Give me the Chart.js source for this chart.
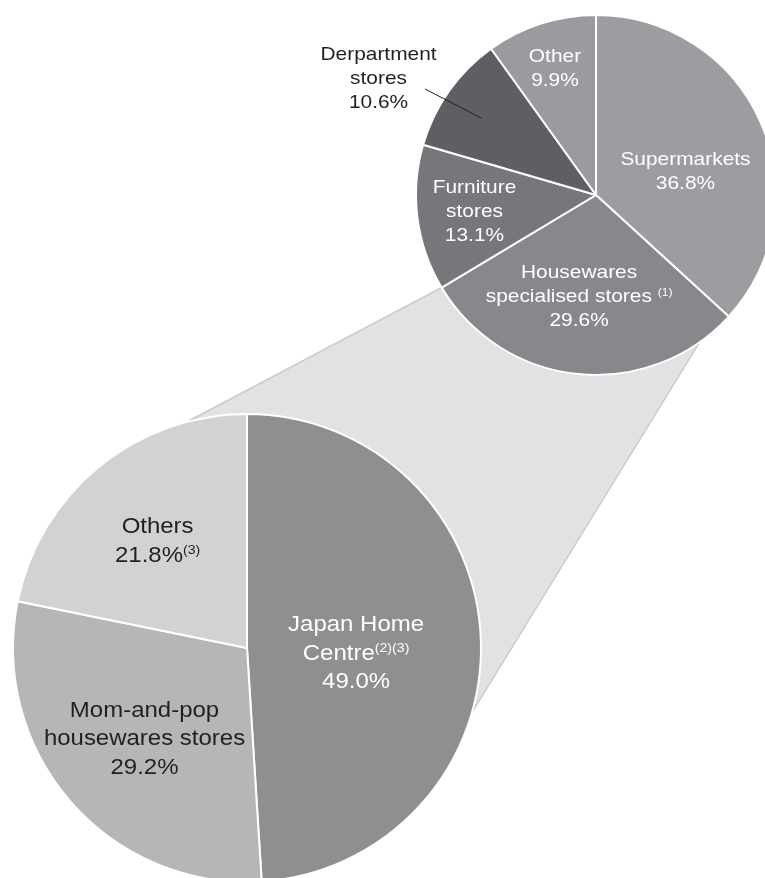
<!DOCTYPE html>
<html lang="en">
<head>
<meta charset="UTF-8">
<title>Housewares sales by channel</title>
<script src="https://cdn.jsdelivr.net/npm/chart.js"></script>
<style>
    body {
        margin: 0;
        background: #fff;
        overflow: hidden;
    }
    .stage {
        position: relative;
        width: 765px;
        height: 878px;
        overflow: hidden;
    }
    .stage canvas {
        position: absolute;
        left: 0;
        top: 0;
    }
</style>
</head>
<body>
<div class="stage">
    <canvas id="storeChart" width="800" height="900"></canvas>
    <canvas id="channelChart" width="800" height="900"></canvas>
</div>
<script>
    // top pie: sales channels (%)
    const channelNames = ['Supermarkets', 'Housewares|specialised stores ^(1)', 'Furniture|stores', 'Derpartment|stores', 'Other'];
    const channelShares = [36.8, 29.6, 13.1, 10.6, 9.9];
    const channelNotes = ['', '', '', '', ''];

    // bottom pie: split of housewares specialised stores (%)
    const storeNames = ['Japan Home|Centre^(2)(3)', 'Mom-and-pop|housewares stores', 'Others'];
    const storeShares = [49.0, 29.2, 21.8];
    const storeNotes = ['', '', '(3)'];

    const channelColors = ['#9c9da0', '#87888b', '#76777a', '#5e5f62', '#9a9b9e'];
    const storeColors = ['#8e8f91', '#b5b6b8', '#d1d2d4'];

    // label anchors, relative to pie centre in radius units (first baseline)
    const channelLabelPos = [
        { fx: 0.497, fy: -0.167, color: '#fff' },
        { fx: -0.094, fy: 0.462, color: '#fff' },
        { fx: -0.675, fy: -0.013, color: '#fff' },
        { fx: -1.208, fy: -0.75, color: '#231f20' },
        { fx: -0.228, fy: -0.741, color: '#fff' }
    ];
    const storeLabelPos = [
        { fx: 0.466, fy: -0.073, color: '#fff' },
        { fx: -0.438, fy: 0.294, color: '#231f20' },
        { fx: -0.382, fy: -0.491, color: '#231f20' }
    ];

    // zoom wedge angles, degrees clockwise from 12 o'clock
    const wedgeTopAngle = 144.8;
    const wedgeBottomAngles = [106.1, 345.2];

    const FONT = '"Liberation Sans", Arial, sans-serif';

    function drawLine(ctx, x, y, line, size, supSize, rise, sx) {
        const parts = line.split('^');
        ctx.font = size + 'px ' + FONT;
        const w1 = ctx.measureText(parts[0]).width;
        let w2 = 0;
        if (parts[1]) {
            ctx.font = supSize + 'px ' + FONT;
            w2 = ctx.measureText(parts[1]).width;
        }
        const total = (w1 + w2) * sx;
        ctx.save();
        ctx.translate(x - total / 2, y);
        ctx.scale(sx, 1);
        ctx.textAlign = 'left';
        ctx.textBaseline = 'alphabetic';
        ctx.font = size + 'px ' + FONT;
        ctx.fillText(parts[0], 0, 0);
        if (parts[1]) {
            ctx.font = supSize + 'px ' + FONT;
            ctx.fillText(parts[1], w1, -rise);
        }
        ctx.restore();
    }

    function labelPlugin(names, shares, notes, pos, style) {
        return {
            id: 'sliceLabels',
            afterDatasetsDraw(chart) {
                const ctx = chart.ctx;
                const arc = chart.getDatasetMeta(0).data[0];
                const cx = arc.x, cy = arc.y, r = arc.outerRadius;
                names.forEach((name, i) => {
                    const lines = name.split('|');
                    lines.push(shares[i].toFixed(1) + '%' + (notes[i] ? '^' + notes[i] : ''));
                    const x = cx + pos[i].fx * r;
                    const y = cy + pos[i].fy * r;
                    ctx.fillStyle = pos[i].color;
                    lines.forEach((ln, k) => {
                        drawLine(ctx, x, y + k * style.lh, ln, style.size, style.sup, style.rise, style.sx);
                    });
                });
                if (style.leader) {
                    // leader line for the department stores label
                    const l = style.leader;
                    ctx.save();
                    ctx.strokeStyle = '#231f20';
                    ctx.lineWidth = 1;
                    ctx.beginPath();
                    ctx.moveTo(cx + l[0] * r, cy + l[1] * r);
                    ctx.lineTo(cx + l[2] * r, cy + l[3] * r);
                    ctx.stroke();
                    ctx.restore();
                }
            }
        };
    }

    function pieOptions(padding) {
        return {
            responsive: false,
            animation: false,
            events: [],
            layout: { padding: padding },
            plugins: { legend: { display: false }, tooltip: { enabled: false } }
        };
    }

    const channelChart = new Chart(document.getElementById('channelChart'), {
        type: 'pie',
        data: {
            labels: channelNames,
            datasets: [{
                data: channelShares,
                backgroundColor: channelColors,
                borderColor: '#fff',
                borderWidth: 2
            }]
        },
        options: pieOptions({ left: 415, top: 14, right: 23, bottom: 524 }),
        plugins: [labelPlugin(channelNames, channelShares, channelNotes, channelLabelPos,
            { size: 19, sup: 11, rise: 6, lh: 24, sx: 1.1, leader: [-0.95, -0.589, -0.635, -0.426] })]
    });

    function polar(cx, cy, r, degFromTop) {
        const a = (degFromTop - 90) * Math.PI / 180;
        return [cx + r * Math.cos(a), cy + r * Math.sin(a)];
    }

    const wedgePlugin = {
        id: 'zoomWedge',
        beforeDatasetsDraw(chart) {
            const topArcs = channelChart.getDatasetMeta(0).data;
            const src = topArcs[1];
            const tcx = src.x, tcy = src.y, tr = src.outerRadius;
            const p1 = [tcx + tr * Math.cos(src.endAngle), tcy + tr * Math.sin(src.endAngle)];
            const p2 = polar(tcx, tcy, tr, wedgeTopAngle);
            const b = chart.getDatasetMeta(0).data[0];
            const p3 = polar(b.x, b.y, b.outerRadius, wedgeBottomAngles[0]);
            const p4 = polar(b.x, b.y, b.outerRadius, wedgeBottomAngles[1]);
            const ctx = chart.ctx;
            ctx.save();
            ctx.beginPath();
            ctx.moveTo(p1[0], p1[1]);
            ctx.lineTo(p2[0], p2[1]);
            ctx.lineTo(p3[0], p3[1]);
            ctx.lineTo(p4[0], p4[1]);
            ctx.closePath();
            ctx.fillStyle = '#e1e2e3';
            ctx.fill();
            ctx.strokeStyle = '#c9cacc';
            ctx.lineWidth = 1.5;
            ctx.stroke();
            ctx.restore();
        }
    };

    const storeChart = new Chart(document.getElementById('storeChart'), {
        type: 'pie',
        data: {
            labels: storeNames,
            datasets: [{
                data: storeShares,
                backgroundColor: storeColors,
                borderColor: '#fff',
                borderWidth: 2
            }]
        },
        options: pieOptions({ left: 12, top: 413, right: 318, bottom: 17 }),
        plugins: [wedgePlugin, labelPlugin(storeNames, storeShares, storeNotes, storeLabelPos,
            { size: 22, sup: 13, rise: 7.5, lh: 28.6, sx: 1.09 })]
    });
</script>
</body>
</html>
